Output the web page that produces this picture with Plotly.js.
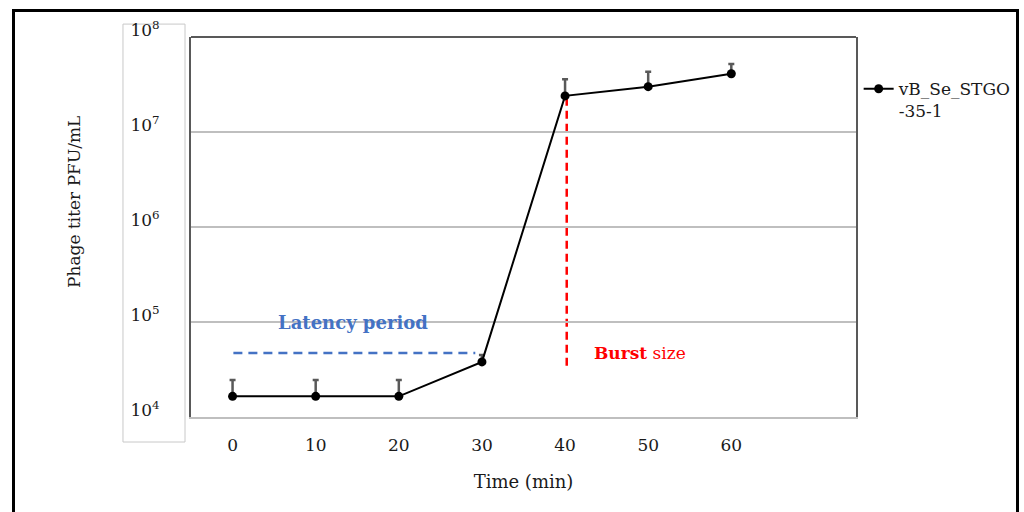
<!DOCTYPE html>
<html>
<head>
<meta charset="utf-8">
<script src="https://cdn.plot.ly/plotly-3.0.1.min.js"></script>
<style>
  html, body { margin: 0; padding: 0; background: #fff; }
  #wrap { position: relative; width: 1024px; height: 512px; overflow: hidden; }
  #chart { position: absolute; left: 0; top: 0; width: 1024px; height: 512px; }
  #frame { position: absolute; left: 12px; top: 9px; width: 1001px; height: 520px;
           border: 3px solid #000; pointer-events: none; }
</style>
</head>
<body>
<div id="wrap">
  <div id="chart"></div>
  <div id="frame"></div>
</div>
<script>
// Data
const timeMin = [0, 10, 20, 30, 40, 50, 60];
const titer = [1.65e4, 1.65e4, 1.65e4, 3.8e4, 2.4e7, 3.0e7, 4.1e7];
const errUp = [0.8e4, 0.8e4, 0.8e4, 0.7e4, 1.2e7, 1.3e7, 1.1e7];
const errDown = [0, 0, 0, 0, 0, 0, 0];
const seriesName = 'vB_Se_STGO<br>-35-1';
const xTicks = [0, 10, 20, 30, 40, 50, 60];
const yTickVals = [1e4, 1e5, 1e6, 1e7, 1e8];
const yTickText = ['10<sup>4</sup>', '10<sup>5</sup>', '10<sup>6</sup>', '10<sup>7</sup>', '10<sup>8</sup>'];
const yTitle = 'Phage titer PFU/mL';
const xTitle = 'Time (min)';

const FONT = 'DejaVu Serif, Liberation Serif, serif';
const TXT = '#1a1a1a';

const trace = {
  x: timeMin,
  y: titer,
  name: seriesName,
  type: 'scatter',
  mode: 'lines+markers',
  line: { color: '#000000', width: 2 },
  marker: { color: '#000000', size: 9 },
  error_y: {
    type: 'data', symmetric: false, array: errUp, arrayminus: errDown,
    color: '#595959', thickness: 2.5, width: 3
  },
  showlegend: true
};

const layout = {
  width: 1024, height: 512,
  margin: { l: 191, r: 168, t: 37, b: 95, autoexpand: false },
  paper_bgcolor: '#ffffff',
  plot_bgcolor: '#ffffff',
  font: { family: FONT, color: TXT, size: 17 },
  showlegend: true,
  legend: {
    x: 1.004, xanchor: 'left', y: 0.91, yanchor: 'top', valign: 'top',
    font: { family: FONT, size: 17, color: TXT },
    bgcolor: 'rgba(0,0,0,0)', borderwidth: 0
  },
  xaxis: {
    range: [-5, 75],
    tickvals: xTicks,
    ticktext: xTicks.map(String),
    showgrid: false, zeroline: false,
    showline: true, linecolor: '#bfbfbf', linewidth: 2,
    ticks: '', ticklabelstandoff: 12,
    tickfont: { family: FONT, size: 17, color: TXT },
    title: { text: xTitle, font: { family: FONT, size: 18, color: TXT }, standoff: 21 }
  },
  yaxis: {
    type: 'log',
    range: [4, 8],
    tickvals: yTickVals,
    ticktext: yTickText,
    showgrid: true, gridcolor: '#bfbfbf', gridwidth: 1.5,
    zeroline: false,
    showline: true, mirror: true, linecolor: '#595959', linewidth: 2,
    ticks: '', ticklabelstandoff: 26, ticklabelshift: -7,
    tickfont: { family: FONT, size: 17, color: TXT },
    title: { text: '' }
  },
  shapes: [
    // top border of plot
    { type: 'line', xref: 'paper', yref: 'paper', x0: 0, x1: 1, y0: 1, y1: 1,
      line: { color: '#595959', width: 2 } },
    // box around y tick labels
    { type: 'rect', xref: 'paper', yref: 'paper', x0: -0.1023, x1: -0.009, y0: -0.0658, y1: 1.034,
      line: { color: '#c8c8c8', width: 1 }, layer: 'below' },
    // latency period dashed line
    { type: 'line', xref: 'x', yref: 'y', x0: 0.1, x1: 29.2, y0: 4.72e4, y1: 4.72e4,
      line: { color: '#4472C4', width: 2.5, dash: '9px,6px' } },
    // burst size dashed line
    { type: 'line', xref: 'x', yref: 'y', x0: 40.2, x1: 40.2, y0: 2.3e7, y1: 3.3e4,
      line: { color: '#FF0000', width: 2.5, dash: '8px,5px' }, layer: 'below' }
  ],
  annotations: [
    { xref: 'paper', yref: 'paper', x: -0.194, y: 0.566, text: yTitle, textangle: -90,
      showarrow: false, font: { family: FONT, size: 17, color: TXT } },
    { xref: 'x', yref: 'y', x: 14.5, y: 4.99, text: '<b>Latency period</b>', showarrow: false,
      font: { family: FONT, size: 18, color: '#4472C4' } },
    { xref: 'x', yref: 'y', x: 49.0, y: 4.674, text: '<b>Burst</b> size', showarrow: false,
      font: { family: FONT, size: 17, color: '#FF0000' } }
  ]
};

Plotly.newPlot('chart', [trace], layout, { displayModeBar: false, staticPlot: true });
</script>
</body>
</html>
